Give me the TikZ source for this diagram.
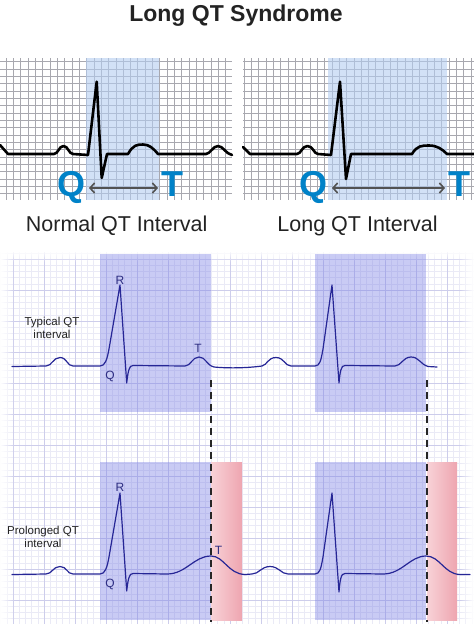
\documentclass[tikz,border=0pt]{standalone}
\usepackage{fontspec}
\setmainfont{Liberation Sans}
\usetikzlibrary{arrows.meta,fadings}
\definecolor{qtblue}{RGB}{0,130,200}
\definecolor{ecgblue}{RGB}{38,38,150}
\definecolor{labblue}{RGB}{45,45,130}
\definecolor{txtgray}{RGB}{35,35,35}
\definecolor{gridgray}{RGB}{168,168,175}
\definecolor{topshade}{RGB}{180,205,240}
\definecolor{majgrid}{RGB}{205,205,235}
\definecolor{mingrid}{RGB}{234,234,246}
\definecolor{lavfill}{RGB}{120,125,228}
\definecolor{pinkl}{RGB}{248,210,215}
\definecolor{pinkr}{RGB}{238,165,176}
\tikzset{
  topgrid/.style={draw=gridgray, line width=0.9pt},
  topecg/.style={draw=black, line width=2.6pt, line join=round, line cap=round},
  botecg/.style={draw=ecgblue, line width=1.2pt, line join=round, line cap=round},
  qtletter/.style={text=qtblue, font=\fontsize{36}{36}\selectfont\bfseries, anchor=base, inner sep=0pt},
  qtarrow/.style={draw=black!68, line width=1.6pt, {Straight Barb[length=4.5pt,width=10pt]}-{Straight Barb[length=4.5pt,width=10pt]}},
  caption/.style={text=txtgray, font=\fontsize{21.5}{24}\selectfont, anchor=base, inner sep=0pt},
  wavelab/.style={text=labblue, font=\fontsize{12}{12}\selectfont, inner sep=0pt},
  sidelab/.style={text=txtgray, font=\fontsize{11.5}{13}\selectfont, align=center, inner sep=0pt},
  qtband/.style={fill=lavfill, fill opacity=0.4},
  redband/.style={left color=pinkl, right color=pinkr},
  divider/.style={draw=black!85, line width=1.3pt, dash pattern=on 7pt off 5pt}
}
\begin{document}
\begin{tikzpicture}[x=1pt,y=-1pt]
\useasboundingbox[fill=white] (0,0) rectangle (474,624);

% title
\node[anchor=base, inner sep=0pt, text=txtgray, font=\fontsize{23}{26}\selectfont\bfseries] (title) at (236,21.7) {Long QT Syndrome};

% ---------- top panels grid ----------
\foreach \i in {0,...,30} \draw[topgrid] ({6+7.33*\i},58) -- ({6+7.33*\i},200);
\foreach \i in {0,...,18} \draw[topgrid] (0,{61.7+7.33*\i}) -- (232,{61.7+7.33*\i});
\foreach \i in {0,...,31} \draw[topgrid] ({244+7.33*\i},58) -- ({244+7.33*\i},200);
\foreach \i in {0,...,18} \draw[topgrid] (243,{61.7+7.33*\i}) -- (474,{61.7+7.33*\i});
\fill[topshade, fill opacity=0.6] (86,58) rectangle (159,200);
\fill[topshade, fill opacity=0.6] (328,58) rectangle (447,200);

% top left ECG
\draw[topecg] (0,145) -- (8,154) -- (54,154)
  .. controls (58,154) and (59,146) .. (63.5,146)
  .. controls (68,146) and (69,154) .. (73,154)
  -- (88,155) -- (96.7,81.7) -- (101.7,178) -- (107,154) -- (128,154)
  .. controls (133,145) and (137,144.5) .. (143,144.5)
  .. controls (149,144.5) and (153,148) .. (158,154)
  -- (206,154)
  .. controls (210,154) and (213,146) .. (218,146)
  .. controls (223,146) and (226,154) .. (232,155);
% top right ECG
\draw[topecg] (243,147) -- (250,154) -- (297,154)
  .. controls (301,154) and (302,146) .. (307.5,146)
  .. controls (313,146) and (314,154) .. (318,154)
  -- (331,155) -- (340,81.7) -- (346,179) -- (351,154) -- (412,154)
  .. controls (417,145.5) and (422,145.5) .. (429,145.5)
  .. controls (437,145.5) and (442,149) .. (447,154)
  -- (474,154);

% Q / T letters and arrows
\node[qtletter] (q1) at (71.7,196) {Q};
\node[qtletter] (t1) at (172,196) {T};
\node[qtletter] (q2) at (313.5,196) {Q};
\node[qtletter] (t2) at (459,196) {T};
\coordinate (a1s) at (89,188);
\coordinate (a1e) at (158,188);
\coordinate (a2s) at (332,188);
\coordinate (a2e) at (445,188);
\draw[qtarrow] (a1s) -- (a1e);
\draw[qtarrow] (a2s) -- (a2e);

\node[caption] (cap1) at (116.7,231.7) {Normal QT Interval};
\node[caption] (cap2) at (357.5,231.7) {Long QT Interval};

% ---------- bottom grid ----------
\begin{scope}
\clip (0,252) rectangle (474,624);
\foreach \i in {0,...,76} \draw[mingrid, line width=0.5pt] ({0.6+6.2*\i},252) -- ({0.6+6.2*\i},624);
\foreach \i in {0,...,60} \draw[mingrid, line width=0.5pt] (0,{252.8+6.2*\i}) -- (474,{252.8+6.2*\i});
\foreach \i in {0,...,15} \draw[majgrid, line width=0.8pt] ({13+31*\i},252) -- ({13+31*\i},624);
\foreach \i in {0,...,12} \draw[majgrid, line width=0.8pt] (0,{259+31*\i}) -- (474,{259+31*\i});
\end{scope}
\fill[white, path fading=east] (0,252) rectangle (14,624);
\fill[white, path fading=west] (460,252) rectangle (474,624);
\fill[white, path fading=south] (0,250) rectangle (474,262);

% bands
\fill[qtband] (100,254) rectangle (211,412);
\fill[qtband] (315,254) rectangle (426,412);
\fill[qtband] (100,462) rectangle (211,620);
\fill[qtband] (315,462) rectangle (426,620);
\shade[redband] (211,462) rectangle (242,620);
\shade[redband] (427,462) rectangle (457,620);

% dashed dividers
\coordinate (d1t) at (211,380);
\coordinate (d1b) at (211,622);
\coordinate (d2t) at (427,380);
\coordinate (d2b) at (427,622);
\draw[divider] (d1t) -- (d1b);
\draw[divider] (d2t) -- (d2b);

% typical trace
\draw[botecg] (12,366.5) -- (46,366)
  .. controls (52,366) and (53,357.5) .. (60,357.5)
  .. controls (67,357.5) and (67,366) .. (73,366)
  -- (100,366)
  .. controls (105,366) and (107,360) .. (109,349)
  -- (120,285) -- (126.7,383)
  .. controls (128,372) and (129,365) .. (133,365.5)
  -- (185,366)
  .. controls (191,366) and (192,357) .. (199,357)
  .. controls (206,357) and (206,365) .. (214,367)
  .. controls (235,369) and (255,367) .. (262,366)
  .. controls (267,365) and (268,357.5) .. (276,357.5)
  .. controls (284,357.5) and (285,366) .. (291,366)
  -- (315,366)
  .. controls (320,366) and (321,360) .. (323,349)
  -- (332,285) -- (339,383)
  .. controls (340,372) and (341,365) .. (345,365.5)
  -- (395,366)
  .. controls (401,366) and (403,357) .. (411,357)
  .. controls (419,357) and (420,364) .. (428,366.5)
  -- (437,367);

% prolonged trace
\draw[botecg] (12,574.5) -- (46,574)
  .. controls (52,574) and (53,566.5) .. (60,566.5)
  .. controls (67,566.5) and (67,574) .. (73,574)
  -- (100,574)
  .. controls (105,574) and (107,568) .. (109,557)
  -- (120,493) -- (126.7,591)
  .. controls (128,580) and (129,573) .. (133,573.5)
  -- (167,574)
  .. controls (186,574) and (194,556) .. (211,556)
  .. controls (224,556) and (228,574) .. (245,574.5)
  -- (252,574)
  .. controls (259,574) and (261,566.5) .. (270,566.5)
  .. controls (279,566.5) and (281,574) .. (288,574)
  -- (315,574)
  .. controls (320,574) and (321,568) .. (323,557)
  -- (332,493) -- (339,592)
  .. controls (340,580) and (341,573) .. (345,573.5)
  -- (383,574)
  .. controls (402,574) and (410,556) .. (426,556)
  .. controls (440,556) and (444,574) .. (460,574.5)
  -- (470,574.5);

% wave labels
\node[wavelab] (r1) at (120,280.5) {R};
\node[wavelab] (q3) at (110,376) {Q};
\node[wavelab] (t3) at (198,348) {T};
\node[wavelab] (r2) at (120,487.5) {R};
\node[wavelab] (q4) at (110,584.5) {Q};
\node[wavelab] (t4) at (218.5,550.5) {T};

\node[sidelab] (typ) at (52,327.5) {Typical QT\\interval};
\node[sidelab] (pro) at (43,536.5) {Prolonged QT\\interval};
\end{tikzpicture}
\end{document}
